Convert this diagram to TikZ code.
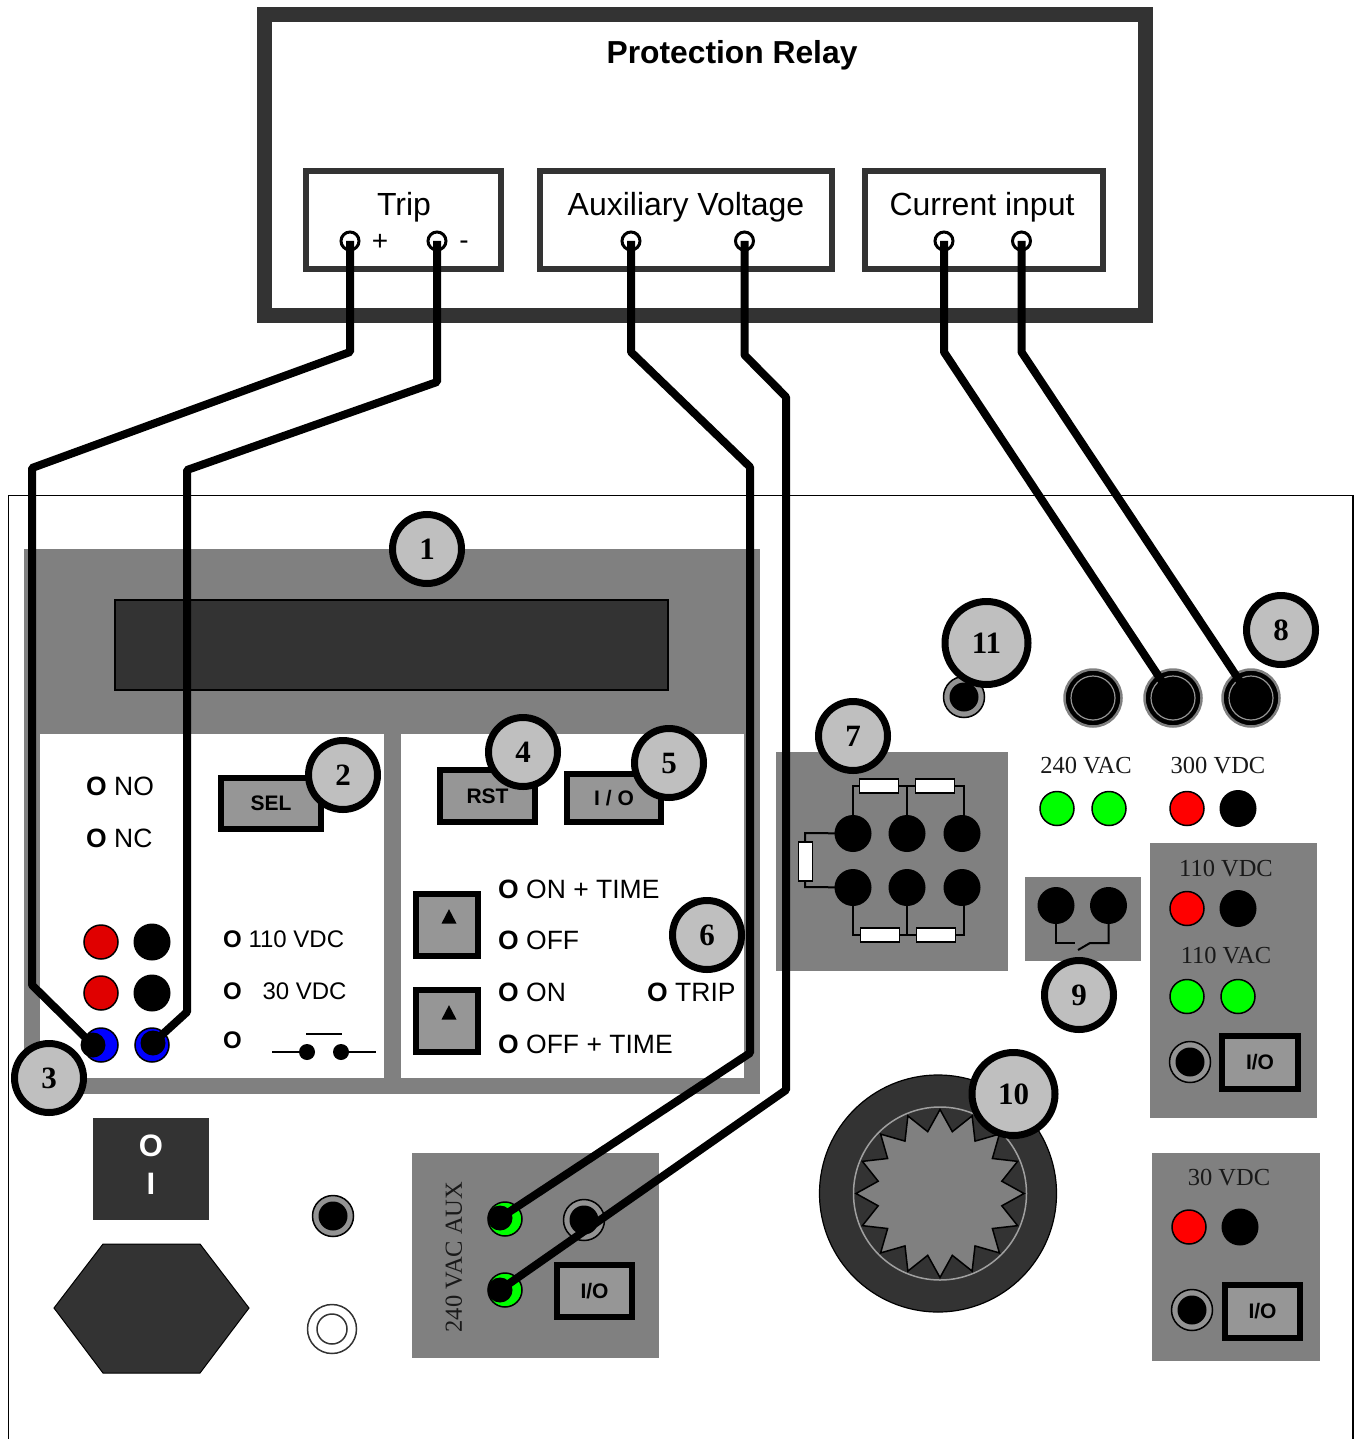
\documentclass[tikz,border=0pt]{standalone}
\usepackage{fontspec}
\setmainfont{Liberation Serif}
\setsansfont{Liberation Sans}
\usetikzlibrary{shapes.geometric}
\definecolor{panelgray}{HTML}{808080}
\definecolor{btngray}{HTML}{969696}
\definecolor{darkgray}{HTML}{333333}
\definecolor{bubblegray}{HTML}{BFBFBF}
\definecolor{ledred}{HTML}{E00000}
\newcommand\fsz[1]{\fontsize{#1}{#1}\selectfont}
\newcommand\lowered[1]{\lower1.5pt\hbox{#1}}
\newcommand\jack[3]{%
  \node[jackouter] (#1o) at (#2,#3) {};
  \node[jackinner] (#1) at (#2,#3) {};}
\newcommand\bigjack[3]{%
  \node[bigjackouter] (#1o) at (#2,#3) {};
  \node[bigjackring] (#1) at (#2,#3) {};}
\tikzset{
  panel/.style={fill=panelgray,draw=none},
  relaybox/.style={draw=darkgray,line width=6pt,fill=white},
  sans/.style={font=\sffamily\fsz{32},inner sep=0pt},
  opt/.style={font=\sffamily\fsz{26.5},inner sep=0pt,anchor=west},
  voltopt/.style={font=\sffamily\fsz{24},inner sep=0pt,anchor=west},
  serif/.style={font=\rmfamily\fsz{24.5},inner sep=0pt,text=black!90},
  term/.style={circle,draw=black,line width=3pt,fill=white,minimum size=18pt,inner sep=0pt,outer sep=0pt},
  wire/.style={draw=black,line width=8pt,line join=bevel},
  blob/.style={circle,fill=black,minimum size=25pt,inner sep=0pt,outer sep=0pt},
  bubble/.style={circle,draw=black,line width=7pt,fill=bubblegray,minimum size=69pt,inner sep=0pt,font=\rmfamily\bfseries\fsz{31}},
  bigbubble/.style={bubble,minimum size=83pt},
  btn/.style={rectangle,draw=black,line width=6pt,fill=btngray,inner sep=0pt,font=\sffamily\bfseries\fsz{21}},
  led/.style={circle,draw=black,line width=1.5pt,minimum size=34pt,inner sep=0pt,outer sep=0pt},
  bdot/.style={circle,fill=black,minimum size=37pt,inner sep=0pt,outer sep=0pt},
  tdot/.style={circle,fill=black,minimum size=16pt,inner sep=0pt,outer sep=0pt},
  jackouter/.style={circle,draw=black,line width=1.5pt,fill=panelgray!85!white,minimum size=41pt,inner sep=0pt},
  jackinner/.style={circle,fill=black,minimum size=29pt,inner sep=0pt,outer sep=0pt},
  bigjackouter/.style={circle,draw=panelgray,line width=2.5pt,fill=black,minimum size=57pt,inner sep=0pt},
  bigjackring/.style={circle,draw=panelgray!85!white,line width=1.2pt,fill=black,minimum size=44pt,inner sep=0pt,outer sep=0pt},
  res/.style={rectangle,draw=black,line width=1.5pt,fill=white,inner sep=0pt,minimum width=39pt,minimum height=14pt},
  thin/.style={draw=black,line width=2pt},
}
\begin{document}
\begin{tikzpicture}[x=1pt,y=-1pt]
\fill[white] (0,0) rectangle (1355,1439);
\useasboundingbox (0,0) rectangle (1355,1439);

% relay
\node[rectangle,draw=darkgray,line width=15pt,fill=white,minimum width=881pt,minimum height=300pt,inner sep=0pt] (relay) at (704.5,165) {};
\node[font=\sffamily\bfseries\fsz{31.8},inner sep=0pt] (relaytitle) at (732,55) {Protection Relay};
\node[relaybox,minimum width=195pt,minimum height=98pt] (tripbox) at (403.5,220) {};
\node[relaybox,minimum width=292pt,minimum height=98pt] (auxbox) at (686,220) {};
\node[relaybox,minimum width=238pt,minimum height=98pt] (curbox) at (984,220) {};
\node[sans] (triplabel) at (404,207) {Trip};
\node[sans] (auxlabel) at (686,207) {Auxiliary Voltage};
\node[sans] (curlabel) at (982,207) {Current input};
\node[sans,font=\sffamily\fsz{28}] (plus) at (380,242) {+};
\node[sans,font=\sffamily\fsz{28}] (minus) at (464,245) {-};
\node[term] (t1) at (350,241) {};
\node[term] (t2) at (437,241) {};
\node[term] (t3) at (631,241) {};
\node[term] (t4) at (744.5,241) {};
\node[term] (t5) at (944,241) {};
\node[term] (t6) at (1021.5,241) {};

% enclosure outline
\draw[black,line width=1.5pt] (8.5,1439) -- (8.5,495.5) -- (1353,495.5) -- (1353,1439);

% main panel
\fill[panelgray] (24,549) rectangle (760,1094);
\fill[white] (40,734) rectangle (384,1078);
\fill[white] (401,734) rectangle (744,1078);
\node[rectangle,draw=black,line width=1.2pt,fill=darkgray,minimum width=553pt,minimum height=90pt,inner sep=0pt] (display) at (391.5,645) {};

% left block
\node[opt] (no) at (86,786) {\textbf{O} NO};
\node[opt] (nc) at (86,838) {\textbf{O} NC};
\node[btn,minimum width=100pt,minimum height=51pt] (sel) at (271,803) {SEL};
\node[led,fill=ledred] (r1) at (101,942) {};
\node[bdot] (k1) at (152,942) {};
\node[led,fill=ledred] (r2) at (101,993) {};
\node[bdot] (k2) at (152,993) {};
\node[led,fill=blue] (b1) at (101,1045) {};
\node[led,fill=blue] (b2) at (152,1045) {};
\node[voltopt] (v110) at (223,939) {\textbf{O} 110 VDC};
\node[voltopt] (v30) at (223,991) {\textbf{O}\hspace{14pt} 30 VDC};
\node[voltopt] (vsw) at (223,1040) {\textbf{O}};
\node[tdot] (sw1) at (307,1052) {};
\node[tdot] (sw2) at (341,1052) {};
\coordinate (swl) at (272,1052);
\coordinate (swr) at (376,1052);
\coordinate (barl) at (306,1034);
\coordinate (barr) at (342,1034);
\draw[thin] (swl) -- (sw1) (sw2) -- (swr) (barl) -- (barr);

% right block
\node[btn,minimum width=95pt,minimum height=52pt] (rst) at (487.5,796) {RST};
\node[btn,minimum width=94pt,minimum height=48pt] (io) at (614,798) {I / O};
\node[btn,minimum width=62pt,minimum height=62pt] (up1) at (447,925) {};
\node[btn,minimum width=62pt,minimum height=62pt] (up2) at (447,1021) {};
\node[isosceles triangle,shape border rotate=90,isosceles triangle apex angle=55,fill=black,inner sep=0pt,minimum height=14pt,minimum width=15pt] (tri1) at (449,919) {};
\node[isosceles triangle,shape border rotate=90,isosceles triangle apex angle=55,fill=black,inner sep=0pt,minimum height=14pt,minimum width=15pt] (tri2) at (449,1015) {};
\node[opt] (ont) at (498,889) {\textbf{O} ON + TIME};
\node[opt] (off) at (498,940) {\textbf{O} OFF};
\node[opt] (on) at (498,992) {\textbf{O} ON};
\node[opt] (offt) at (498,1044) {\textbf{O} OFF + TIME};
\node[opt] (trip) at (647,992) {\textbf{O} TRIP};

% power switch, fuse
\node[rectangle,fill=darkgray,minimum width=116pt,minimum height=102pt,inner sep=0pt] (pwr) at (151,1169) {};
\node[text=white,font=\sffamily\bfseries\fsz{31},inner sep=0pt] (pwro) at (151,1146) {O};
\node[text=white,font=\sffamily\bfseries\fsz{31},inner sep=0pt] (pwri) at (151,1184) {I};
\draw[black,line width=1pt,fill=darkgray] (54,1308) -- (103,1244) -- (200,1244) -- (249,1308) -- (200,1373) -- (103,1373) -- cycle;
\jack{j1}{333}{1216}
\node[circle,draw=darkgray,line width=1.5pt,fill=white,minimum size=49pt,inner sep=0pt] (w1o) at (332,1329) {};
\node[circle,draw=darkgray,line width=1.5pt,fill=white,minimum size=30pt,inner sep=0pt] (w1) at (332,1329) {};

% aux panel
\fill[panelgray] (412,1153) rectangle (659,1358);
\node[serif,rotate=90] (auxtxt) at (454,1257) {240 VAC AUX};
\node[led,fill=green] (g1) at (505,1219) {};
\node[led,fill=green] (g2) at (505,1290) {};
\jack{j2}{584}{1220}
\node[btn,minimum width=75pt,minimum height=52pt,font=\sffamily\bfseries\fsz{21}] (ioa) at (594.5,1291) {I/O};

% top-right jacks
\jack{j3}{964}{697}
\bigjack{j4}{1093}{698}
\bigjack{j5}{1173}{698}
\bigjack{j6}{1251}{698}

% panel 7
\fill[panelgray] (776,752) rectangle (1008,971);
\node[bdot] (d1) at (853,833.5) {};
\node[bdot] (d2) at (907,833.5) {};
\node[bdot] (d3) at (962,833.5) {};
\node[bdot] (d4) at (853,887.5) {};
\node[bdot] (d5) at (907,887.5) {};
\node[bdot] (d6) at (962,887.5) {};
\coordinate (c1) at (851,786);
\coordinate (c2) at (907,786);
\coordinate (c3) at (964,786);
\coordinate (c4) at (852,935);
\coordinate (c5) at (907,935);
\coordinate (c6) at (964,935);
\coordinate (c7) at (805,833);
\coordinate (c8) at (805,887);
\draw[thin] (d1.center) -- (d1.center |- c1) -- (c3) -- (c3 |- d3);
\draw[thin] (c2) -- (d2.center);
\draw[thin] (d4.center) -- (d4.center |- c4) -- (c6) -- (c6 |- d6);
\draw[thin] (c5) -- (d5.center);
\draw[thin] (d1.center) -- (c7) -- (c8) -- (d4.center);
\node[res] (ra) at (879,786) {};
\node[res] (rb) at (935,786) {};
\node[res] (rc) at (880,935) {};
\node[res] (rd) at (936,935) {};
\node[res,minimum width=14pt,minimum height=39pt] (re) at (805.5,861.5) {};

% panel 9
\fill[panelgray] (1025,877) rectangle (1141,961);
\node[bdot] (e1) at (1056,905.5) {};
\node[bdot] (e2) at (1108.5,905.5) {};
\coordinate (e3) at (1075,943);
\coordinate (e4) at (1078,950);
\coordinate (e5) at (1090,943);
\draw[thin] (e1.center) -- (e1.center |- e3) -- (e3);
\draw[thin] (e4) -- (e5) -- (e2.center |- e5) -- (e2.center);

% voltage labels and leds
\node[serif] (l240) at (1086,766) {240 VAC};
\node[led,fill=green] (g3) at (1057,808.5) {};
\node[led,fill=green] (g4) at (1109,808.5) {};
\node[serif] (l300) at (1218,766) {300 VDC};
\node[led,fill=red] (r3) at (1187,808.5) {};
\node[bdot] (k3) at (1238,808.5) {};

% panel 110
\fill[panelgray] (1150,843) rectangle (1317,1118);
\node[serif] (l110d) at (1226,869) {110 VDC};
\node[led,fill=red] (r4) at (1187,908.5) {};
\node[bdot] (k4) at (1238,908.5) {};
\node[serif] (l110a) at (1226,956) {110 VAC};
\node[led,fill=green] (g5) at (1187,996.5) {};
\node[led,fill=green] (g6) at (1238,996.5) {};
\jack{j7}{1190}{1062}
\node[btn,minimum width=76pt,minimum height=53pt] (io110) at (1260,1062.5) {I/O};

% panel 30
\fill[panelgray] (1152,1153) rectangle (1320,1361);
\node[serif] (l30) at (1229,1178) {30 VDC};
\node[led,fill=red] (r5) at (1189,1227) {};
\node[bdot] (k5) at (1240,1227) {};
\jack{j8}{1192}{1310}
\node[btn,minimum width=75pt,minimum height=53pt] (io30) at (1262.5,1311.5) {I/O};

% wheel
\node[circle,draw=black,line width=1.2pt,fill=darkgray,minimum size=237pt,inner sep=0pt] (wheel) at (938,1193.5) {};
\node[circle,draw=btngray!90!white,line width=1.5pt,minimum size=173pt,inner sep=0pt] (ring) at (940,1193.5) {};
\node[star,star points=16,star point ratio=1.333,draw=black,line width=1.5pt,fill=panelgray,minimum size=168pt,inner sep=0pt] (hub) at (940,1193.5) {};

% wires
\node[blob] (p1) at (93,1045) {};
\node[blob] (p2) at (153,1043) {};
\node[blob] (p3) at (500,1218) {};
\node[blob] (p4) at (500,1290) {};
\coordinate (a1) at (350,352);
\coordinate (a2) at (32,468);
\coordinate (a3) at (32,985);
\draw[wire] (t1.center) -- (a1) -- (a2) -- (a3) -- (p1.center);
\coordinate (b1c) at (437,382);
\coordinate (b2c) at (187,470);
\coordinate (b3c) at (187,1012);
\draw[wire] (t2.center) -- (b1c) -- (b2c) -- (b3c) -- (p2.center);
\coordinate (c1a) at (631,352);
\coordinate (c2a) at (750,467);
\coordinate (c3a) at (750,1053);
\draw[wire] (t3.center) -- (c1a) -- (c2a) -- (c3a) -- (p3.center);
\coordinate (d1a) at (744.5,355);
\coordinate (d2a) at (786,397);
\coordinate (d3a) at (786,1090);
\draw[wire] (t4.center) -- (d1a) -- (d2a) -- (d3a) -- (p4.center);
\coordinate (f1a) at (944,352);
\draw[wire] (t5.center) -- (f1a) -- (j5.center);
\coordinate (h1a) at (1021.5,352);
\draw[wire] (t6.center) -- (h1a) -- (j6.center);

% bubbles
\node[bubble] (n1) at (427,549) {\lowered{1}};
\node[bubble] (n2) at (343,775) {\lowered{2}};
\node[bubble] (n3) at (49,1078) {\lowered{3}};
\node[bubble] (n4) at (523,752) {\lowered{4}};
\node[bubble] (n5) at (669,763) {\lowered{5}};
\node[bubble] (n6) at (707,935) {\lowered{6}};
\node[bubble] (n7) at (853,736) {\lowered{7}};
\node[bubble] (n8) at (1281,630) {\lowered{8}};
\node[bubble] (n9) at (1079,995) {\lowered{9}};
\node[bigbubble] (n10) at (1013.5,1094) {\lowered{10}};
\node[bigbubble] (n11) at (986.5,643) {\lowered{11}};
\end{tikzpicture}
\end{document}
